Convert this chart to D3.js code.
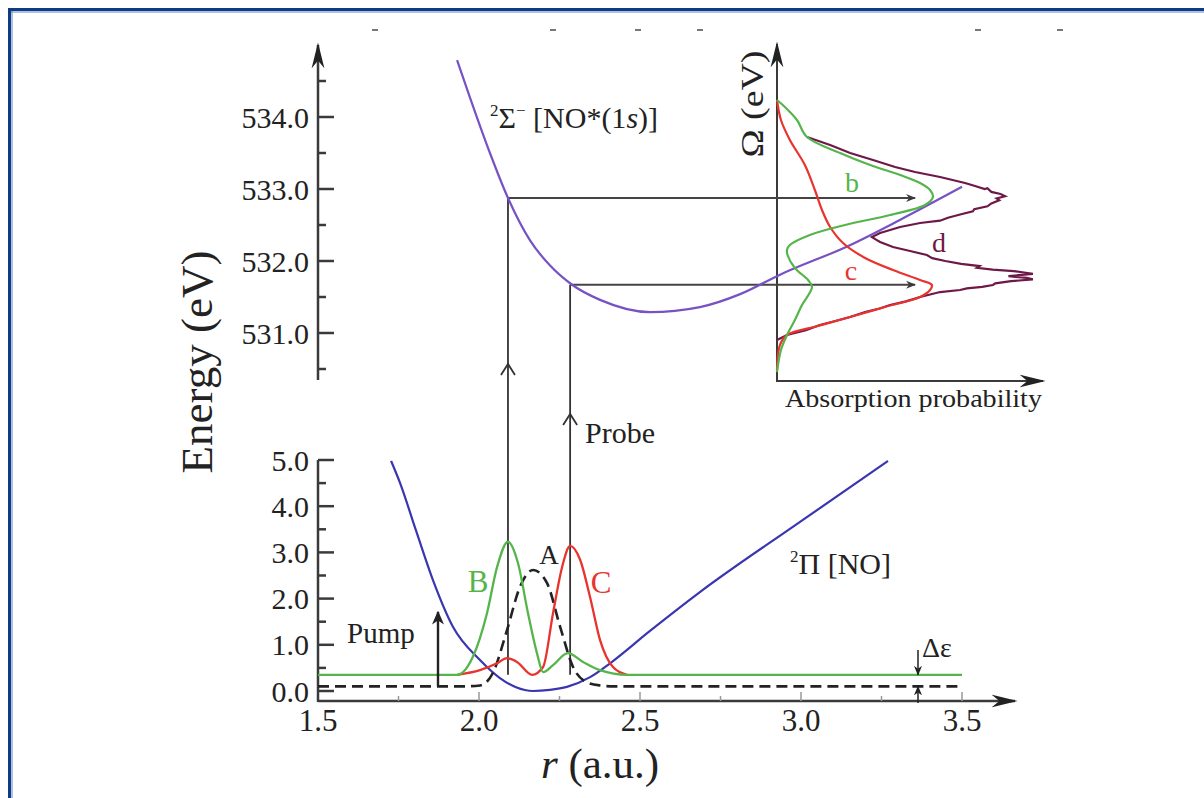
<!DOCTYPE html>
<html><head><meta charset="utf-8">
<script src="https://cdn.jsdelivr.net/npm/d3@7/dist/d3.min.js"></script>
<style>
html,body{margin:0;padding:0;background:#fff;}
svg{display:block;}
text{font-family:"Liberation Serif","DejaVu Serif",serif;fill:#222;}
</style></head>
<body>
<svg id="c" width="1204" height="798"></svg>
<script>
// ---------- data ----------
const rTicks = [1.5, 2.0, 2.5, 3.0, 3.5];
const lowTicks = [0, 1, 2, 3, 4, 5];
const upTicks = [531, 532, 533, 534];

// 2Σ- [NO*(1s)] core-excited potential (r in a.u., E in eV)
const sigmaR = [1.932,1.972,2.034,2.090,2.158,2.220,2.289,2.376,2.531,2.686,2.811,2.935,3.152,3.307,3.500];
const sigmaE = [534.79,534.27,533.50,532.875,532.29,531.94,531.67,531.46,531.29,531.36,531.54,531.81,532.22,532.57,533.03];

// 2Π [NO] ground potential
const piR = [1.727,1.755,1.804,1.857,1.919,2.003,2.065,2.115,2.168,2.220,2.273,2.345,2.407,2.531,2.686,2.997,3.270];
const piE = [4.98,4.50,3.48,2.40,1.39,0.67,0.28,0.08,0.00,0.025,0.09,0.30,0.60,1.30,2.14,3.66,4.98];

// wave packets
const waveAR = [1.5,1.95,2.003,2.043,2.087,2.127,2.168,2.211,2.252,2.292,2.335,2.376,2.42,3.5];
const waveAE = [0.10,0.10,0.12,0.39,1.32,2.25,2.62,2.34,1.39,0.52,0.19,0.12,0.10,0.10];
const waveBR = [1.5,1.932,1.981,2.025,2.056,2.090,2.121,2.152,2.180,2.199,2.230,2.276,2.323,2.376,2.46,3.5];
const waveBE = [0.35,0.35,0.74,1.69,2.68,3.23,2.77,1.69,0.82,0.41,0.56,0.82,0.63,0.45,0.35,0.35];
const waveCR = [1.932,2.003,2.056,2.087,2.118,2.165,2.199,2.230,2.258,2.283,2.314,2.345,2.376,2.416,2.46];
const waveCE = [0.35,0.45,0.60,0.71,0.63,0.35,0.52,1.69,2.68,3.14,2.84,2.03,1.10,0.52,0.35];

// probe transitions
const probeR = [2.090, 2.283];
const probeOmega = [532.875, 531.67];
const probeEnd = 0.525;   // absorption-probability coordinate of arrow tips

// inset spectra: Omega (eV) vs absorption probability (arb.)
const specBOmega = [534.236,534.139,533.958,533.722,533.500,533.333,533.194,533.083,532.986,532.889,532.778,532.639,532.500,532.361,532.222,532.153,532.083,531.903,531.736,531.639,531.389,531.181,530.972,530.764,530.458];
const specBVal   = [0,0.030,0.076,0.114,0.240,0.354,0.468,0.544,0.582,0.593,0.563,0.430,0.259,0.125,0.049,0.038,0.040,0.068,0.118,0.133,0.095,0.068,0.038,0.015,0];
const specCOmega = [534.236,533.958,533.681,533.333,532.986,532.708,532.472,532.250,532.042,531.875,531.736,531.667,531.597,531.500,531.361,531.222,531.097,530.972,530.833,530.486];
const specCVal   = [0,0.015,0.049,0.106,0.144,0.171,0.202,0.251,0.335,0.441,0.544,0.589,0.582,0.544,0.411,0.278,0.156,0.038,0.011,0];
const specDOmega = [533.722,533.611,533.500,533.403,533.306,533.236,533.167,533.083,533.042,533.000,533.010,532.960,532.930,532.900,532.870,532.845,532.800,532.760,532.720,532.690,532.650,532.600,532.560,532.528,532.472,532.431,532.389,532.333,532.300,532.264,532.194,532.139,532.083,532.040,532.000,531.960,531.930,531.905,531.880,531.860,531.840,531.820,531.790,531.765,531.745,531.720,531.690,531.667,531.640,531.620,531.597,531.569,531.500,531.440,531.389,531.340,531.292,531.222,531.160,531.111,531.040,530.972,530.903];
const specDVal   = [0.114,0.202,0.278,0.365,0.449,0.525,0.620,0.715,0.753,0.790,0.800,0.815,0.850,0.867,0.835,0.845,0.815,0.800,0.750,0.745,0.700,0.650,0.620,0.544,0.468,0.430,0.392,0.361,0.375,0.392,0.441,0.506,0.570,0.590,0.640,0.700,0.770,0.760,0.820,0.900,0.940,0.973,0.880,0.950,0.973,0.890,0.830,0.821,0.780,0.722,0.696,0.620,0.544,0.490,0.430,0.390,0.335,0.278,0.215,0.163,0.110,0.038,0];

const topCropMarks = [375, 553, 638, 700, 978, 1060];

// ---------- scales ----------
const svg = d3.select("#c");
const x = d3.scaleLinear().domain([1.5, 3.5]).range([318, 962]);
const yLow = d3.scaleLinear().domain([0, 5]).range([691, 460]);
const yUp = d3.scaleLinear().domain([531, 534]).range([333, 117]);
const xIn = d3.scaleLinear().domain([0, 1]).range([777, 1040]);

const AX = "#3a3a3a";
const GREEN = "#55b54a", RED = "#e8342e", PIBLUE = "#3a36b0", SIGMA = "#7652c4", MAROON = "#6e1848";

// frame
svg.append("rect").attr("x", 9.5).attr("y", 9.5).attr("width", 1300).attr("height", 900)
  .attr("fill", "none").attr("stroke", "#0e3b82").attr("stroke-width", 3);
svg.append("line").attr("x1", 11).attr("x2", 1204).attr("y1", 12).attr("y2", 12).attr("stroke", "#5f86c0").attr("stroke-width", 1);
svg.append("line").attr("x1", 12).attr("x2", 12).attr("y1", 11).attr("y2", 798).attr("stroke", "#5f86c0").attr("stroke-width", 1);

// crop remnants at top
svg.selectAll(".cm").data(topCropMarks).enter().append("line")
  .attr("x1", d => d - 3).attr("x2", d => d + 3).attr("y1", 30).attr("y2", 30)
  .attr("stroke", "#777").attr("stroke-width", 2);

const defs = svg.append("defs");
function marker(id, color) {
  defs.append("marker").attr("id", id).attr("viewBox", "0 0 10 10").attr("refX", 9).attr("refY", 5)
    .attr("markerWidth", 10).attr("markerHeight", 10).attr("markerUnits", "userSpaceOnUse").attr("orient", "auto")
    .append("path").attr("d", "M0,1 L10,5 L0,9 L3,5 Z").attr("fill", color);
}
marker("arrAx", AX);
marker("arrBk", "#222");
defs.append("marker").attr("id", "arrPump").attr("viewBox", "0 0 10 10").attr("refX", 9).attr("refY", 5)
  .attr("markerWidth", 14).attr("markerHeight", 12).attr("markerUnits", "userSpaceOnUse").attr("orient", "auto")
  .attr("preserveAspectRatio", "none")
  .append("path").attr("d", "M0,0 L10,5 L0,10 L3,5 Z").attr("fill", "#222");
defs.append("marker").attr("id", "arrBig").attr("viewBox", "0 0 10 10").attr("refX", 9).attr("refY", 5)
  .attr("markerWidth", 26).attr("markerHeight", 16).attr("markerUnits", "userSpaceOnUse").attr("orient", "auto")
  .attr("preserveAspectRatio", "none")
  .append("path").attr("d", "M0,1 L10,5 L0,9 L3,5 Z").attr("fill", "#222");

// ---------- axes ----------
const g = svg.append("g");
// x axis
g.append("line").attr("x1", 318).attr("x2", 1015).attr("y1", 701).attr("y2", 701)
  .attr("stroke", AX).attr("stroke-width", 2.5).attr("marker-end", "url(#arrBig)");
const xMinor = d3.range(1.75, 3.5, 0.5);
g.selectAll(".xt").data(rTicks).enter().append("line")
  .attr("x1", d => x(d)).attr("x2", d => x(d)).attr("y1", 701).attr("y2", 692).attr("stroke", "#999").attr("stroke-width", 1.5);
g.selectAll(".xm").data(xMinor).enter().append("line")
  .attr("x1", d => x(d)).attr("x2", d => x(d)).attr("y1", 701).attr("y2", 696).attr("stroke", "#999").attr("stroke-width", 1.5);
g.selectAll(".xl").data(rTicks).enter().append("text")
  .attr("x", d => x(d)).attr("y", 731).attr("text-anchor", "middle").attr("font-size", 31)
  .text(d => d.toFixed(1));

// lower y axis
g.append("line").attr("x1", 318).attr("x2", 318).attr("y1", 702).attr("y2", 460)
  .attr("stroke", AX).attr("stroke-width", 2.5);
g.selectAll(".yt").data(lowTicks).enter().append("line")
  .attr("x1", 318).attr("x2", 334).attr("y1", d => yLow(d)).attr("y2", d => yLow(d)).attr("stroke", AX).attr("stroke-width", 2.5);
g.selectAll(".ym").data(d3.range(0.5, 5, 1)).enter().append("line")
  .attr("x1", 318).attr("x2", 326).attr("y1", d => yLow(d)).attr("y2", d => yLow(d)).attr("stroke", AX).attr("stroke-width", 2.5);
g.selectAll(".yl").data(lowTicks).enter().append("text")
  .attr("x", 309).attr("y", d => yLow(d)).attr("dy", "0.35em").attr("text-anchor", "end").attr("font-size", 30)
  .text(d => d.toFixed(1));

// upper y axis
g.append("line").attr("x1", 318).attr("x2", 318).attr("y1", 380).attr("y2", 45)
  .attr("stroke", AX).attr("stroke-width", 2.5).attr("marker-end", "url(#arrBig)");
g.selectAll(".ut").data(upTicks).enter().append("line")
  .attr("x1", 318).attr("x2", 334).attr("y1", d => yUp(d)).attr("y2", d => yUp(d)).attr("stroke", AX).attr("stroke-width", 2.5);
g.selectAll(".um").data(d3.range(530.5, 535, 1)).enter().append("line")
  .attr("x1", 318).attr("x2", 326).attr("y1", d => yUp(d)).attr("y2", d => yUp(d)).attr("stroke", AX).attr("stroke-width", 2.5);
g.selectAll(".ul").data(upTicks).enter().append("text")
  .attr("x", 309).attr("y", d => yUp(d)).attr("dy", "0.35em").attr("text-anchor", "end").attr("font-size", 30)
  .text(d => d.toFixed(1));

// axis titles
svg.append("text").attr("transform", "translate(196,362) rotate(-90)").attr("text-anchor", "middle")
  .attr("dy", "0.35em").attr("font-size", 45).text("Energy (eV)");
const xt = svg.append("text").attr("x", 600).attr("y", 778).attr("text-anchor", "middle").attr("font-size", 43);
xt.append("tspan").attr("font-style", "italic").text("r");
xt.append("tspan").text(" (a.u.)");

// ---------- inset axes ----------
g.append("line").attr("x1", 777).attr("x2", 777).attr("y1", 381).attr("y2", 44)
  .attr("stroke", AX).attr("stroke-width", 2).attr("marker-end", "url(#arrBig)");
g.append("line").attr("x1", 776).attr("x2", 1043).attr("y1", 381).attr("y2", 381)
  .attr("stroke", AX).attr("stroke-width", 2).attr("marker-end", "url(#arrBig)");
svg.append("text").attr("x", 785).attr("y", 407).attr("font-size", 25)
  .attr("textLength", 257).attr("lengthAdjust", "spacingAndGlyphs").text("Absorption probability");
svg.append("text").attr("transform", "translate(752,104) rotate(-90)").attr("text-anchor", "middle")
  .attr("dy", "0.35em").attr("font-size", 31)
  .attr("textLength", 107).attr("lengthAdjust", "spacingAndGlyphs").text("Ω (eV)");

// ---------- curves ----------
const lineLow = d3.line().x(d => x(d[0])).y(d => yLow(d[1])).curve(d3.curveMonotoneX);
const lineUp = d3.line().x(d => x(d[0])).y(d => yUp(d[1])).curve(d3.curveMonotoneX);
const lineIn = d3.line().x(d => xIn(d[1])).y(d => yUp(d[0])).curve(d3.curveCatmullRom.alpha(0.5));
const lineInJag = d3.line().x(d => xIn(d[1])).y(d => yUp(d[0])).curve(d3.curveLinear);
const zip = (a, b) => a.map((v, i) => [v, b[i]]);

// probe lines (vertical + horizontal)
probeR.forEach((r, i) => {
  const y0 = yLow(0.35), y1 = yUp(probeOmega[i]);
  svg.append("line").attr("x1", x(r)).attr("x2", x(r)).attr("y1", y0).attr("y2", y1)
    .attr("stroke", "#333").attr("stroke-width", 1.8);
  svg.append("line").attr("x1", x(r)).attr("x2", xIn(probeEnd)).attr("y1", y1).attr("y2", y1)
    .attr("stroke", "#444").attr("stroke-width", 1.8).attr("marker-end", "url(#arrAx)");
  // open chevron
  const cy = i === 0 ? 364 : 414;
  svg.append("path").attr("d", `M${x(r)-7},${cy+11} L${x(r)},${cy} L${x(r)+7},${cy+11}`)
    .attr("fill", "none").attr("stroke", "#333").attr("stroke-width", 1.8);
});

svg.append("path").attr("d", lineUp(zip(sigmaR, sigmaE))).attr("fill", "none").attr("stroke", SIGMA).attr("stroke-width", 2.2);
svg.append("path").attr("d", lineLow(zip(piR, piE))).attr("fill", "none").attr("stroke", PIBLUE).attr("stroke-width", 2.2);

svg.append("path").attr("d", lineLow(zip(waveAR, waveAE))).attr("fill", "none").attr("stroke", "#222")
  .attr("stroke-width", 2.6).attr("stroke-dasharray", "11,6");
svg.append("path").attr("d", lineLow(zip(waveCR, waveCE))).attr("fill", "none").attr("stroke", RED).attr("stroke-width", 2.3);
svg.append("path").attr("d", lineLow(zip(waveBR, waveBE))).attr("fill", "none").attr("stroke", GREEN).attr("stroke-width", 2.3);

// inset spectra
svg.append("path").attr("d", lineInJag(zip(specDOmega, specDVal))).attr("fill", "none").attr("stroke", MAROON).attr("stroke-width", 2.2);
svg.append("path").attr("d", lineIn(zip(specCOmega, specCVal))).attr("fill", "none").attr("stroke", RED).attr("stroke-width", 2.2);
svg.append("path").attr("d", lineIn(zip(specBOmega, specBVal))).attr("fill", "none").attr("stroke", GREEN).attr("stroke-width", 2.2);

// ---------- annotations ----------
const sl = svg.append("text").attr("x", 490).attr("y", 128).attr("font-size", 30);
sl.append("tspan").attr("font-size", 17).attr("dy", -12).text("2");
sl.append("tspan").attr("dy", 12).text("Σ");
sl.append("tspan").attr("font-size", 17).attr("dy", -12).text("−");
sl.append("tspan").attr("dy", 12).text(" [NO*(1");
sl.append("tspan").attr("font-style", "italic").text("s");
sl.append("tspan").text(")]");

const pl = svg.append("text").attr("x", 790).attr("y", 574).attr("font-size", 30);
pl.append("tspan").attr("font-size", 17).attr("dy", -12).text("2");
pl.append("tspan").attr("dy", 12).text("Π [NO]");

svg.append("text").attr("x", 585).attr("y", 443).attr("font-size", 30).text("Probe");
svg.append("text").attr("x", 347).attr("y", 643).attr("font-size", 29).text("Pump");
svg.append("line").attr("x1", 438).attr("x2", 438).attr("y1", yLow(0.1)).attr("y2", 612)
  .attr("stroke", "#222").attr("stroke-width", 2.4).attr("marker-end", "url(#arrPump)");

svg.append("text").attr("x", 478).attr("y", 581).attr("dy", "0.35em").attr("text-anchor", "middle").attr("font-size", 31).style("fill", GREEN).text("B");
svg.append("text").attr("x", 549).attr("y", 555).attr("dy", "0.35em").attr("text-anchor", "middle").attr("font-size", 27).text("A");
svg.append("text").attr("x", 601).attr("y", 582).attr("dy", "0.35em").attr("text-anchor", "middle").attr("font-size", 31).style("fill", RED).text("C");

svg.append("text").attr("x", 852).attr("y", 192).attr("text-anchor", "middle").attr("font-size", 28).style("fill", GREEN).text("b");
svg.append("text").attr("x", 851).attr("y", 280).attr("text-anchor", "middle").attr("font-size", 28).style("fill", RED).text("c");
svg.append("text").attr("x", 939).attr("y", 252).attr("text-anchor", "middle").attr("font-size", 28).style("fill", MAROON).text("d");

// Δε
svg.append("text").attr("x", 922).attr("y", 657).attr("font-size", 28).text("Δε");
svg.append("line").attr("x1", 918).attr("x2", 918).attr("y1", 650).attr("y2", yLow(0.35))
  .attr("stroke", "#222").attr("stroke-width", 1.5).attr("marker-end", "url(#arrBk)");
svg.append("line").attr("x1", 918).attr("x2", 918).attr("y1", 703).attr("y2", yLow(0.1))
  .attr("stroke", "#222").attr("stroke-width", 1.5).attr("marker-end", "url(#arrBk)");
</script>
</body></html>
